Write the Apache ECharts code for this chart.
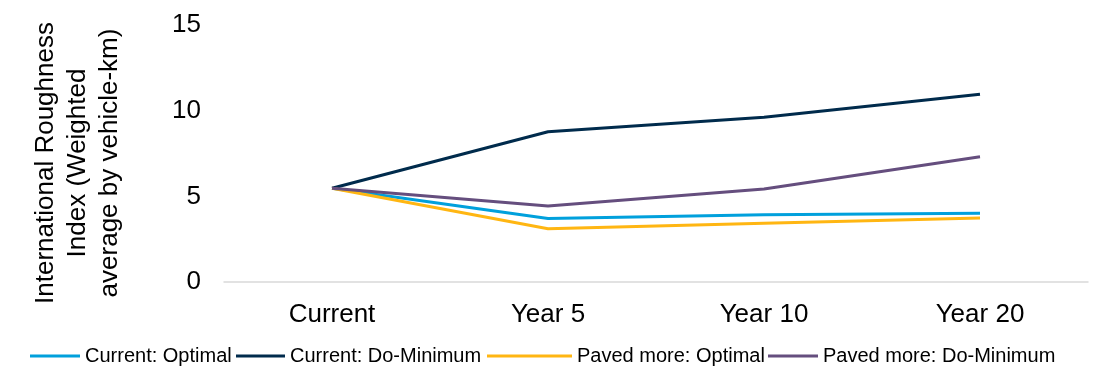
<!DOCTYPE html>
<html>
<head>
<meta charset="utf-8">
<script src="https://cdn.jsdelivr.net/npm/echarts@6/dist/echarts.min.js"></script>
<style>
  html, body { margin: 0; padding: 0; background: #fff; }
  #chart { width: 1102px; height: 375px; }
</style>
</head>
<body>
<div id="chart"></div>
<script>
// Road roughness projections by scenario
const categories = ['Current', 'Year 5', 'Year 10', 'Year 20'];
const currentOptimal = [5.47, 3.70, 3.93, 4.01];
const currentDoMinimum = [5.47, 8.77, 9.61, 10.96];
const pavedOptimal = [5.47, 3.11, 3.43, 3.74];
const pavedDoMinimum = [5.47, 4.44, 5.43, 7.31];
const yTicks = [0, 5, 10, 15];
const yTitle = 'International Roughness\nIndex (Weighted\naverage by vehicle-km)';
const seriesNames = ['Current: Optimal', 'Current: Do-Minimum', 'Paved more: Optimal', 'Paved more: Do-Minimum'];

const font = 'Liberation Sans, Arial, sans-serif';

function line(name, data, color) {
  return {
    name, type: 'line', data,
    symbol: 'none',
    lineStyle: { color, width: 3 },
    itemStyle: { color },
    z: 3
  };
}

// one legend block per series so each key can be placed on its own
const legendSlots = [
  { left: 30, width: 50 },
  { left: 236, width: 49 },
  { left: 487, width: 85 },
  { left: 768, width: 50 }
];
const legends = seriesNames.map((name, i) => ({
  data: [name],
  top: 346,
  left: legendSlots[i].left,
  padding: 0,
  itemWidth: legendSlots[i].width,
  itemHeight: 3,
  icon: 'rect',
  textStyle: { fontFamily: font, fontSize: 20, color: '#000' }
}));

const chart = echarts.init(document.getElementById('chart'));
chart.setOption({
  animation: false,
  grid: { left: 224, right: 14, top: 25, bottom: 93 },
  // rotated axis title, drawn as free text so it can sit slightly below the plot centre
  graphic: [{
    type: 'text',
    x: 78,
    y: 163,
    rotation: Math.PI / 2,
    style: {
      text: yTitle,
      fontFamily: font,
      fontSize: 26,
      lineHeight: 32,
      fill: '#000',
      align: 'center',
      verticalAlign: 'middle'
    }
  }],
  legend: legends,
  xAxis: {
    type: 'category',
    data: categories,
    boundaryGap: true,
    axisLine: { lineStyle: { color: '#d9d9d9', width: 1.5 } },
    axisTick: { show: false },
    axisLabel: { fontFamily: font, fontSize: 26, color: '#000', margin: 20 }
  },
  yAxis: {
    type: 'value',
    min: yTicks[0],
    max: yTicks[yTicks.length - 1],
    interval: 5,
    axisLine: { show: false },
    axisTick: { show: false },
    splitLine: { show: false },
    axisLabel: { fontFamily: font, fontSize: 26, color: '#000', margin: 23 }
  },
  series: [
    line(seriesNames[0], currentOptimal, '#00a0dc'),
    line(seriesNames[1], currentDoMinimum, '#002b4c'),
    line(seriesNames[2], pavedOptimal, '#ffb612'),
    line(seriesNames[3], pavedDoMinimum, '#654e7e')
  ]
});
</script>
</body>
</html>
